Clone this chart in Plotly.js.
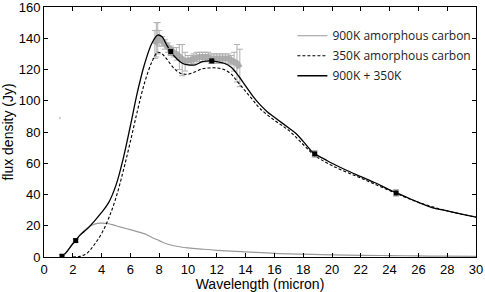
<!DOCTYPE html>
<html>
<head>
<meta charset="utf-8">
<script src="https://cdn.plot.ly/plotly-3.0.1.min.js"></script>
<style>html,body{margin:0;padding:0;background:#fff;}#chart{width:485px;height:292px;}</style>
</head>
<body>
<div id="chart"></div>
<script>
// 900K amorphous carbon component
const hotWl   = [1.25,1.5,2.0,2.2,2.5,3.0,3.5,4.0,4.5,5.0,6.0,7.0,7.5,8.0,8.5,9.0,10.0,11.0,12.0,14.0,16.0,18.0,20.0,22.0,24.0,26.0,28.0,30.0];
const hotFlux = [0.3,2.5,8.5,10.5,14,18.5,21,21.7,21.3,20,17.5,14.8,12.5,10.5,8.5,7.2,5.8,5.0,4.3,3.3,2.3,1.8,1.4,1.1,0.9,0.7,0.5,0.4];

// 350K amorphous carbon component
const coldWl   = [2.0,2.5,3.0,3.5,4.0,4.5,5.0,5.5,6.0,6.5,7.0,7.5,7.9,8.2,8.5,9.0,9.5,10.0,10.5,11.0,11.5,12.0,12.5,13.0,13.5,14.0,14.5,15.0,16.0,17.0,18.0,18.8,20.0,22.0,24.0,26.0,28.0,30.0];
const coldFlux = [0,0.4,2.5,8,15,25,38,55,74,94,112,125,131,130,127,121,117.5,117,118.5,120.5,121,121,120,117,111.5,106,100.5,95,87.5,81,72,65,58.5,50.5,42.5,35,29.5,25.5];

// 900K + 350K total
const sumWl   = [1.25,1.5,2.0,2.2,2.5,3.0,3.5,4.0,4.5,5.0,5.5,6.0,6.5,7.0,7.5,7.9,8.2,8.5,8.8,9.2,9.6,10.0,10.5,11.0,11.5,12.0,12.5,13.0,13.5,14.0,14.5,15.0,15.5,16.0,16.5,17.0,17.5,18.0,18.5,18.8,19.5,20.0,21.0,22.0,23.0,24.0,24.5,25.0,26.0,27.0,28.0,29.0,30.0];
const sumFlux = [0.3,2.5,8.5,10.5,14,18,23,28.5,35,46,63,84,106,124,137,142,141,136,131.5,127,124,123,123,125,125.5,125,124,121.5,116,109.5,103,97.5,93,89.5,86,82.5,79,74,68.5,66,62.5,60,55.5,51.5,47.5,43,41,39,35,31.5,29.5,27.5,25.5];

// Observed spectrum (grey band with error bars)
const specWl   = [7.7,7.8,7.9,8.0,8.2,8.4,8.6,8.8,9.0,9.2,9.4,9.6,9.8,10.0,10.2,10.4,10.6,10.8,11.0,11.2,11.4,11.6,11.8,12.0,12.2,12.4,12.6,12.8,13.0,13.2,13.4,13.6];
const specFlux = [136,139,140,140,138,136,134,132,131,130,128,126,125,126,126,127,128,128,128,128,128,127,127,127,127,127,127,127,126,125,124,121];
const specErr  = [9,11,10,5,3,3,3,3,3,4,8,10,6,3,3,3,3,3,3,3,3,3,3,3,3,3,3,3,3,6,12,12];

// Photometry points
const photWl   = [1.25,2.2,8.8,11.65,18.8,24.45];
const photFlux = [0.5,10.5,131.5,125.5,66,41];
const photErr  = [1,1,2,1.5,2,2];

// stray grey dot
const strayWl = [1.1];
const strayFlux = [89];

const xTicks = [0,2,4,6,8,10,12,14,16,18,20,22,24,26,28,30];
const yTicks = [0,20,40,60,80,100,120,140,160];

const traces = [
  {x: specWl, y: specFlux, type:'scatter', mode:'lines', showlegend:false,
   line:{color:'rgba(165,165,165,0.9)', width:6},
   error_y:{type:'data', array:specErr, visible:true, color:'#b0b0b0', thickness:1, width:3}},
  {x: strayWl, y: strayFlux, type:'scatter', mode:'markers', showlegend:false,
   marker:{color:'#bbb', size:2}},
  {x: hotWl, y: hotFlux, type:'scatter', mode:'lines', name:'900K amorphous carbon', legendgroup:'a',
   line:{color:'#999', width:1.2, shape:'spline'}},
  {x: coldWl, y: coldFlux, type:'scatter', mode:'lines', name:'350K amorphous carbon', legendgroup:'b',
   line:{color:'#000', width:1.1, dash:'3px,2px', shape:'spline'}},
  {x: sumWl, y: sumFlux, type:'scatter', mode:'lines', name:'900K + 350K', legendgroup:'c',
   line:{color:'#000', width:1.3, shape:'spline'}},
  {x: photWl, y: photFlux, type:'scatter', mode:'markers', showlegend:false,
   marker:{symbol:'square', color:'#000', size:5},
   error_y:{type:'data', array:photErr, visible:true, color:'#999', thickness:1, width:3}}
];

const axisCommon = {
  showline:true, linecolor:'#000', linewidth:1, mirror:'allticks',
  ticks:'inside', ticklen:4, tickcolor:'#000', tickwidth:1,
  showgrid:false, zeroline:false, ticklabeloverflow:'allow',
  tickfont:{family:'Liberation Sans, Arial, sans-serif', size:13, color:'#000'}
};

const layout = {
  width:485, height:292,
  margin:{l:44, r:9, t:7, b:35},
  paper_bgcolor:'#fff', plot_bgcolor:'#fff',
  showlegend:true,
  legend:{x:0.575, y:0.943, xanchor:'left', yanchor:'top', bgcolor:'rgba(0,0,0,0)',
          font:{family:'Open Sans, sans-serif', size:12, color:'#222'}, tracegroupgap:1},
  xaxis:Object.assign({}, axisCommon, {range:[0,30], tickvals:xTicks, ticktext:xTicks.map(String),
    title:{text:'Wavelength (micron)', standoff:2, font:{family:'Liberation Sans, Arial, sans-serif', size:14, color:'#000'}}}),
  yaxis:Object.assign({}, axisCommon, {range:[0,160], tickvals:yTicks, ticktext:yTicks.map(String),
    title:{text:'flux density (Jy)', standoff:4, font:{family:'Liberation Sans, Arial, sans-serif', size:14, color:'#000'}}})
};

Plotly.newPlot('chart', traces, layout, {displayModeBar:false, staticPlot:true});
</script>
</body>
</html>
